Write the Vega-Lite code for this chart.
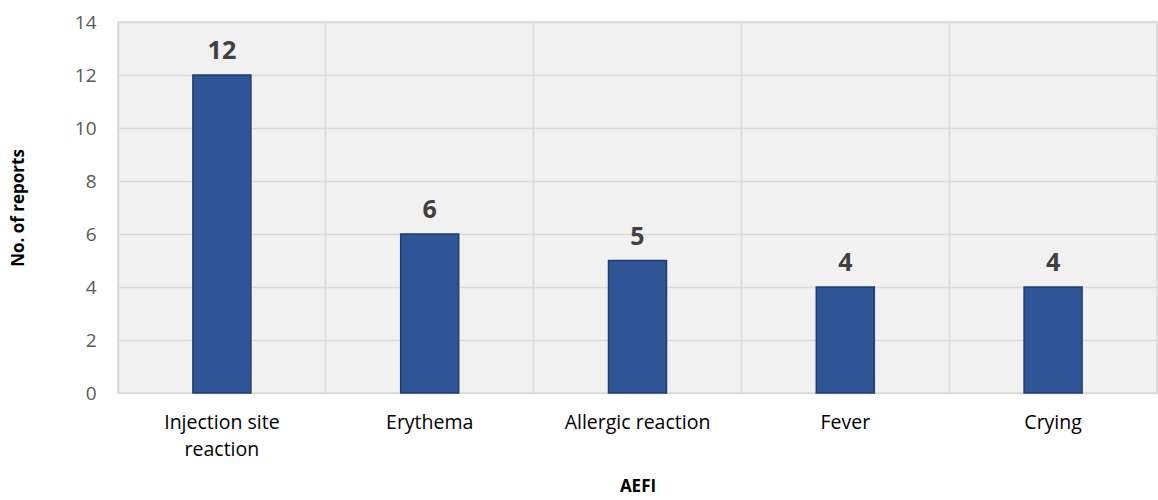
{
  "$schema": "https://vega.github.io/schema/vega-lite/v6.json",
  "width": 1039,
  "height": 371,
  "autosize": "none",
  "padding": {"left": 118, "top": 22, "right": 1, "bottom": 107},
  "background": "white",
  "config": {
    "font": "Open Sans",
    "view": {"fill": "#f1f1f1", "stroke": "#d9d9d9", "strokeWidth": 1.5}
  },
  "data": {
    "values": [
      {"aefi": "Injection site reaction", "reports": 12},
      {"aefi": "Erythema", "reports": 6},
      {"aefi": "Allergic reaction", "reports": 5},
      {"aefi": "Fever", "reports": 4},
      {"aefi": "Crying", "reports": 4}
    ]
  },
  "encoding": {
    "x": {
      "field": "aefi",
      "type": "nominal",
      "sort": null,
      "scale": {"paddingInner": 0, "paddingOuter": 0},
      "axis": {
        "title": "AEFI",
        "titleFontSize": 17,
        "titleFontWeight": "bold",
        "titleColor": "#000000",
        "titlePadding": 20,
        "labelAngle": 0,
        "labelFontSize": 19.5,
        "labelColor": "#000000",
        "labelPadding": 20,
        "labelLineHeight": 27,
        "labelExpr": "datum.label == 'Injection site reaction' ? ['Injection site', 'reaction'] : datum.label",
        "domain": false,
        "ticks": false,
        "grid": true,
        "bandPosition": 0,
        "gridColor": "#d9d9d9",
        "gridWidth": 1.5
      }
    },
    "y": {
      "field": "reports",
      "type": "quantitative",
      "scale": {"domain": [0, 14], "nice": false},
      "axis": {
        "title": "No. of reports",
        "values": [0, 2, 4, 6, 8, 10, 12, 14],
        "titleFontSize": 17,
        "titleFontWeight": "bold",
        "titleColor": "#000000",
        "titlePadding": 47,
        "labelFontSize": 19,
        "labelColor": "#595959",
        "labelPadding": 22,
        "domain": false,
        "ticks": false,
        "gridColor": "#d9d9d9",
        "gridWidth": 1.5
      }
    }
  },
  "layer": [
    {
      "mark": {"type": "bar", "size": 58, "color": "#2f5597", "stroke": "#1f3d70", "strokeWidth": 1.5}
    },
    {
      "mark": {"type": "text", "baseline": "bottom", "dy": -11, "fontSize": 25, "fontWeight": "bold", "color": "#404040"},
      "encoding": {"text": {"field": "reports", "type": "quantitative"}}
    }
  ]
}
